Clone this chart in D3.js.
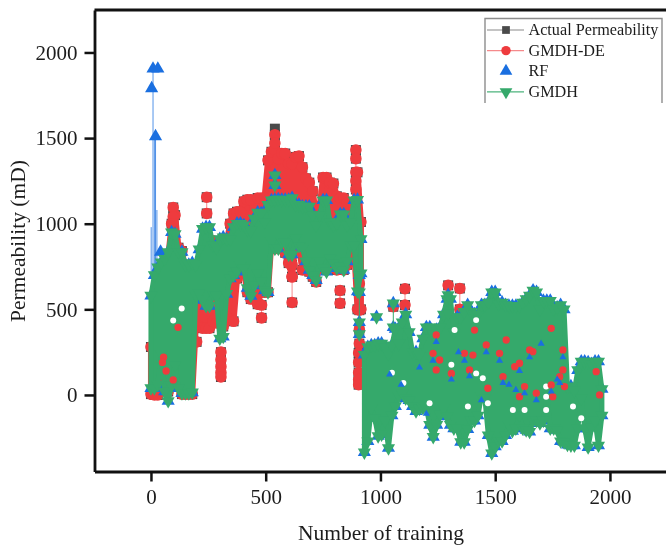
<!DOCTYPE html>
<html>
<head>
<meta charset="utf-8">
<script src="https://cdn.jsdelivr.net/npm/d3@7"></script>
<style>
  html, body { margin: 0; padding: 0; background: #fff; }
  svg { display: block; filter: blur(0.5px); }
  text { font-family: "Liberation Serif", serif; fill: #1c1c1c; }
</style>
</head>
<body>
<div id="chart"></div>
<script>
// Too many points overlap to read one by one, so each series is read as its
// upper and lower edge per 15 training steps, plus the marks that stand apart.
const xTicks = [0, 500, 1000, 1500, 2000];
const yTicks = [0, 500, 1000, 1500, 2000];
const legendLabels = ['Actual Permeability', 'GMDH-DE', 'RF', 'GMDH'];

const stepsLeft = [0,15,30,45,60,75,90,105,120,135,150,165,180,195,210,225,240,255,270,285,300,315,330,345,360,375,390,405,420,435,450,465,480,495,510,525,540,555,570,585,600,615,630,645,660,675,690,705,720,735,750,765,780,795,810,825,840,855,870,885,900,915];
const stepsRight = [930,945,960,975,990,1005,1020,1035,1050,1065,1080,1095,1110,1125,1140,1155,1170,1185,1200,1215,1230,1245,1260,1275,1290,1305,1320,1335,1350,1365,1380,1395,1410,1425,1440,1455,1470,1485,1500,1515,1530,1545,1560,1575,1590,1605,1620,1635,1650,1665,1680,1695,1710,1725,1740,1755,1770,1785,1800,1815,1830,1845,1860,1875,1890,1905,1920,1935,1950,1965];

const gmdhUpperLeft = [580,700,745,775,795,835,950,940,835,835,760,760,770,760,850,970,980,980,875,860,910,920,910,910,980,1000,1000,990,965,960,1030,1065,1060,1010,1110,1137,1140,1143,1140,1140,1140,1150,1110,1110,1100,1100,1100,1050,990,1050,1137,1137,1010,990,1000,1055,1055,990,1010,1137,1140,910];
const gmdhLowerLeft = [40,40,60,240,20,-35,55,175,40,10,10,10,15,585,595,555,520,520,590,580,330,340,590,680,700,720,760,740,625,578,640,710,665,610,600,900,855,855,900,890,820,820,915,870,860,780,730,700,670,780,740,720,800,770,740,750,730,780,875,875,605,710];
const gmdhUpperRight = [235,280,290,290,300,300,280,240,290,385,300,425,470,367,250,250,235,330,395,395,355,380,395,470,560,560,365,455,455,485,525,485,470,470,525,525,540,600,600,530,540,525,520,520,520,520,540,560,580,610,600,500,550,550,550,500,510,525,500,45,50,25,145,195,195,190,180,195,195,35];
const gmdhLowerRight = [-335,-270,-75,-135,-240,-230,-150,-310,-120,-65,-5,10,-20,-30,-65,-95,-80,-75,-75,-175,-245,-175,-115,-75,-125,-175,-195,-195,-275,-275,-200,-150,-150,-120,-5,-20,-235,-340,-300,-270,-270,-235,-175,-210,-195,-120,-195,-205,-215,-150,-150,-165,-150,-10,-195,-195,-205,-270,-275,-290,-295,-295,-195,-20,-195,-305,-190,-150,-295,-120];
const gmdhApartX = [540,540,908,908,908,908,983,1056,1056,1295,1295];
const gmdhApartY = [1283,1225,700,600,425,355,455,535,395,583,478];

const deUpper = [280,300,450,500,680,800,1000,1050,860,840,730,530,390,620,650,700,850,880,900,880,870,880,890,1000,1060,1070,1070,1130,1140,1140,1060,1150,1150,1150,1370,1420,1430,1380,1410,1410,1350,1350,1390,1395,1330,1265,1240,1190,1040,1100,1270,1270,1240,1235,1160,1150,1150,1120,1040,1100,1300,1010];
const deLower = [5,0,0,60,60,20,100,90,60,5,5,5,5,395,400,390,390,390,430,420,420,400,440,440,430,680,720,720,600,560,560,530,600,600,600,900,855,855,900,830,770,690,900,860,730,730,720,690,660,760,740,730,800,760,730,740,730,760,860,860,500,500];
const deApartX = [97,97,97,243,243,199,305,305,305,305,305,482,482,615,615,615,824,824,893,893,893,893,893,540,540,908,908,908,908,905,905,905,905,905,1056,1107,1107,1295,1346,1346];
const deApartY = [1095,1040,1000,1155,1060,310,250,205,165,130,105,525,450,760,690,540,610,535,1430,1380,1300,1250,1200,1520,1470,650,495,380,300,245,190,130,90,60,515,620,525,640,622,500];
// red marks that show through the green block
const deSpotX = [118,55,50,66,97,1410,1243,1229,1258,1243,1309,1366,1403,1388,1468,1519,1461,1534,1548,1650,1606,1585,1664,1628,1606,1679,1744,1744,1751,1795,1795,1781,1802,1955,1940];
const deSpotY = [395,220,190,140,88,379,350,243,204,146,126,243,233,146,39,243,292,107,321,263,185,165,253,49,-10,10,389,58,-10,263,146,107,49,0,136];

const actualTopX = [540];
const actualTopY = [1555];

const rfApartX = [3,9,30,20,42];
const rfApartY = [1790,1905,1905,1510,835];
const rfStemX = [1,9,16,20,26];
const rfStemTop = [980,1905,1510,1510,1080];
const rfStemBase = 700;
const rfSpotX = [1243,1229,1309,1366,1388,1519,1534,1650,1606,1628,1679,1744,1795,1781,1461,1200,1170,1090,1040,1340,1440,1560,1590,1700,1770];
const rfSpotY = [310,200,90,200,110,200,70,220,140,10,-30,20,220,70,250,-110,160,60,120,250,-30,60,30,300,90];

// white gaps left between the overlapping marks
const gapX = [134,97,1417,1446,1309,1323,1417,1214,1381,1468,1577,1628,1722,1722,1722,1839,1875,1050,1100];
const gapY = [505,435,126,97,176,379,437,-49,-68,-49,-88,-88,49,-10,-88,-68,-136,130,70];

const colors = { actual: '#4a4a4a', de: '#ee3b3e', rf: '#1a6fe0', gmdh: '#35a96b' };

const width = 666, height = 547;
const x = d3.scaleLinear().domain([-246, 2253]).range([94.5, 668]);
const y = d3.scaleLinear().domain([-447, 2248]).range([471.5, 10]);

const svg = d3.select('#chart').append('svg')
  .attr('width', width)
  .attr('height', height);

const plot = svg.append('g');

const symbolPath = (type, size) => d3.symbol().type(type).size(size)();
const paths = {
  square: symbolPath(d3.symbolSquare, 100),
  circle: symbolPath(d3.symbolCircle, 105),
  up: symbolPath(d3.symbolTriangle, 75),
  down: symbolPath(d3.symbolTriangle, 75),
  spot: symbolPath(d3.symbolCircle, 42),
  upSmall: symbolPath(d3.symbolTriangle, 22)
};

function drawMarks(xs, ys, d, color, rotate) {
  plot.append('g')
    .attr('fill', color)
    .selectAll('path')
    .data(xs.map((v, i) => [v, ys[i]]))
    .join('path')
    .attr('d', d)
    .attr('transform', p => `translate(${x(p[0])},${y(p[1])})${rotate ? ' rotate(180)' : ''}`);
}

function drawBlock(xs, upper, lower, color, opts) {
  const pts = xs.map((v, i) => ({ x: v, hi: upper[i], lo: lower[i] }));
  if (opts.fill) {
    // the stroke stands in for the half width of the marks along the edge
    plot.append('path')
      .attr('fill', color)
      .attr('stroke', color)
      .attr('stroke-width', opts.fill)
      .attr('stroke-linejoin', 'round')
      .attr('d', d3.area().x(d => x(d.x)).y0(d => y(d.lo)).y1(d => y(d.hi))(pts));
  }
  drawMarks(xs, upper, opts.mark, color, opts.rotate);
  drawMarks(xs, lower, opts.mark, color, opts.rotate);
}

// a thin stem through marks that share an x
function drawStems(xs, ys, color) {
  const groups = d3.groups(xs.map((v, i) => [v, ys[i]]), d => d[0]);
  plot.append('g')
    .attr('stroke', color)
    .attr('stroke-width', 1)
    .selectAll('line')
    .data(groups)
    .join('line')
    .attr('x1', g => x(g[0]))
    .attr('x2', g => x(g[0]))
    .attr('y1', g => y(d3.max(g[1], d => d[1])))
    .attr('y2', g => y(d3.min(g[1], d => d[1])));
}

// Actual Permeability sits right behind GMDH-DE, only its corners show
drawBlock(stepsLeft, deUpper, deLower, colors.actual, { mark: paths.square });
drawMarks(deApartX, deApartY, paths.square, colors.actual);
drawMarks(actualTopX, actualTopY, paths.square, colors.actual);

// GMDH-DE
drawStems(deApartX, deApartY, '#f58a8c');
drawBlock(stepsLeft, deUpper, deLower, colors.de, { mark: paths.circle, fill: 6 });
drawMarks(deApartX, deApartY, paths.circle, colors.de);

// RF follows GMDH closely, the blue only shows at the tips
plot.append('g')
  .attr('stroke', colors.rf)
  .attr('stroke-width', 1)
  .attr('stroke-opacity', 0.75)
  .selectAll('line')
  .data(rfStemX.map((v, i) => [v, rfStemTop[i]]))
  .join('line')
  .attr('x1', d => x(d[0]))
  .attr('x2', d => x(d[0]))
  .attr('y1', d => y(d[1]))
  .attr('y2', y(rfStemBase));
drawBlock(stepsLeft, gmdhUpperLeft, gmdhLowerLeft, colors.rf, { mark: paths.up });
drawBlock(stepsRight, gmdhUpperRight, gmdhLowerRight, colors.rf, { mark: paths.up });
drawMarks(gmdhApartX, gmdhApartY, paths.up, colors.rf);
drawMarks(rfApartX, rfApartY, symbolPath(d3.symbolTriangle, 75), colors.rf);

// GMDH
drawStems(gmdhApartX, gmdhApartY, colors.gmdh);
drawBlock(stepsLeft, gmdhUpperLeft, gmdhLowerLeft, colors.gmdh, { mark: paths.down, rotate: true, fill: 5 });
drawBlock(stepsRight, gmdhUpperRight, gmdhLowerRight, colors.gmdh, { mark: paths.down, rotate: true, fill: 5 });
drawMarks(gmdhApartX, gmdhApartY, paths.down, colors.gmdh, true);

drawMarks(gapX, gapY, symbolPath(d3.symbolCircle, 28), '#fff');
drawMarks(deSpotX, deSpotY, paths.spot, colors.de);
drawMarks(rfSpotX, rfSpotY, paths.upSmall, colors.rf);

// axes
const xAxis = svg.append('g')
  .attr('transform', `translate(0,${y(-447)})`)
  .call(d3.axisBottom(x).tickValues(xTicks).tickFormat(d3.format('d')).tickSize(10).tickSizeOuter(0).tickPadding(8));
const yAxis = svg.append('g')
  .attr('transform', `translate(${x(-246)},0)`)
  .call(d3.axisLeft(y).tickValues(yTicks).tickFormat(d3.format('d')).tickSize(10).tickSizeOuter(0).tickPadding(7));

[xAxis, yAxis].forEach(a => {
  a.selectAll('.domain').attr('stroke', '#111').attr('stroke-width', 2.8);
  a.selectAll('.tick line').attr('stroke', '#111').attr('stroke-width', 2.5);
  a.selectAll('.tick text').attr('font-size', 21).attr('font-family', '"Liberation Serif", serif').attr('fill', '#1c1c1c');
});

// top edge of the frame, the right one falls off the picture
svg.append('line')
  .attr('x1', x(-246)).attr('x2', width)
  .attr('y1', y(2248)).attr('y2', y(2248))
  .attr('stroke', '#111').attr('stroke-width', 2.8);

svg.append('text')
  .attr('x', 381).attr('y', 540)
  .attr('text-anchor', 'middle')
  .attr('font-size', 21.5)
  .text('Number of training');

svg.append('text')
  .attr('transform', 'translate(25,241) rotate(-90)')
  .attr('text-anchor', 'middle')
  .attr('font-size', 21.5)
  .text('Permeability (mD)');

// legend
const legend = svg.append('g');
legend.append('path')
  .attr('d', 'M485,103V18.5H662V103')
  .attr('fill', '#fff')
  .attr('stroke', '#8d8d8d')
  .attr('stroke-width', 1.4);

const legendMarks = [
  { color: colors.actual, line: '#8a8a8a', d: symbolPath(d3.symbolSquare, 60) },
  { color: colors.de, line: '#f58a8c', d: symbolPath(d3.symbolCircle, 70) },
  { color: colors.rf, line: null, d: symbolPath(d3.symbolTriangle, 70) },
  { color: colors.gmdh, line: '#4cb37c', d: symbolPath(d3.symbolTriangle, 70), rotate: true }
];

const rows = legend.selectAll('g.row')
  .data(legendLabels)
  .join('g')
  .attr('class', 'row')
  .attr('transform', (d, i) => `translate(0,${30 + i * 20.6})`);

rows.append('line')
  .attr('x1', 487).attr('x2', 524)
  .attr('stroke', (d, i) => legendMarks[i].line || 'none')
  .attr('stroke-width', 1.2);

rows.append('path')
  .attr('d', (d, i) => legendMarks[i].d)
  .attr('fill', (d, i) => legendMarks[i].color)
  .attr('transform', (d, i) => `translate(506,0)${legendMarks[i].rotate ? ' rotate(180)' : ''}`);

rows.append('text')
  .attr('x', 528.5)
  .attr('y', 5)
  .attr('font-size', 16.2)
  .text(d => d);
</script>
</body>
</html>
